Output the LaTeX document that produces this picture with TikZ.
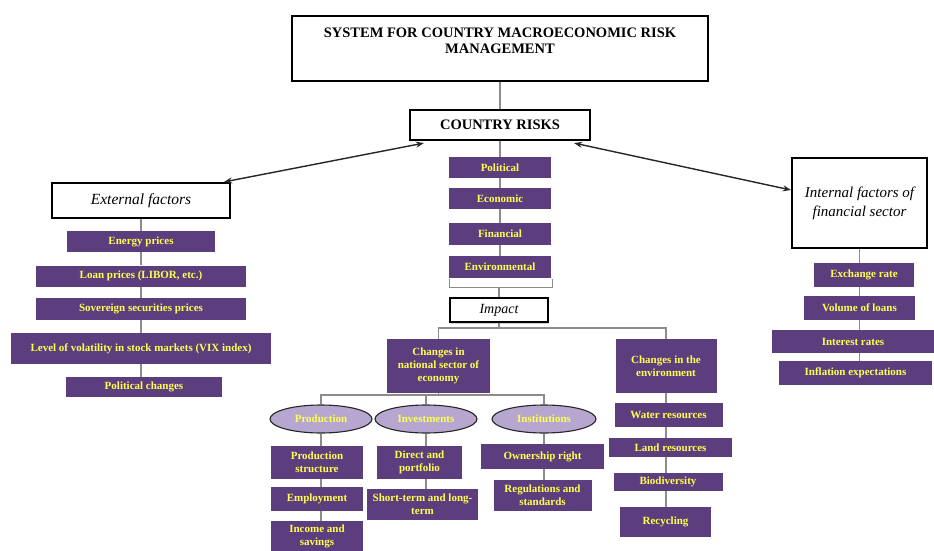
\documentclass[tikz,border=0pt]{standalone}
\usepackage{fontspec}
\setmainfont{Liberation Serif}
\usetikzlibrary{arrows.meta,shapes.geometric,shadows}
\definecolor{pur}{RGB}{92,62,126}
\definecolor{yel}{RGB}{255,255,80}
\definecolor{lav}{RGB}{182,166,208}
\definecolor{conn}{RGB}{140,140,140}
\begin{document}
\begin{tikzpicture}[x=1pt,y=-1pt,
 pbox/.style={draw=none, fill=pur, text=yel, font=\bfseries\fontsize{11}{13}\selectfont, align=center, inner sep=1pt},
 tbox/.style={draw=black, line width=2.2pt, fill=white, align=center, inner sep=2pt},
 oval/.style={ellipse, draw=black!85, line width=1.1pt, fill=lav, text=yel, font=\bfseries\fontsize{11}{13}\selectfont, inner sep=0pt},
 link/.style={draw=conn, line width=1.2pt},
 biarrow/.style={draw=black!85, line width=1.4pt, {Stealth[length=8pt,width=6pt]}-{Stealth[length=8pt,width=6pt]}}
]
\fill[white] (0,0) rectangle (934,551);
\useasboundingbox (0,0) rectangle (934,551);

% top
\node[tbox, minimum width=416, minimum height=65, font=\bfseries\fontsize{14.5}{16}\selectfont] (title) at (500,48.5)
  {SYSTEM FOR COUNTRY MACROECONOMIC RISK\\MANAGEMENT\\\mbox{}};
\node[tbox, minimum width=180, minimum height=30, font=\bfseries\fontsize{14.5}{16}\selectfont] (cr) at (500,125) {COUNTRY RISKS};

% centre column
\node[pbox, minimum width=102, minimum height=21] (pol) at (500,167.5) {Political};
\node[pbox, minimum width=102, minimum height=21] (eco) at (500,198.5) {Economic};
\node[pbox, minimum width=102, minimum height=22] (fin) at (500,234) {Financial};
\node[pbox, minimum width=102, minimum height=22] (env) at (500,267) {Environmental};
\node[draw=black, line width=1.1pt, fill=white, minimum width=98, minimum height=24, font=\itshape\fontsize{14}{16}\selectfont,
      drop shadow={shadow xshift=1pt, shadow yshift=-2pt, fill=black!35}] (imp) at (499,310) {Impact};

\node[pbox, minimum width=103, minimum height=54] (nat) at (438.5,366) {Changes in\\national sector of\\economy};
\node[pbox, minimum width=101, minimum height=54] (envc) at (666,366) {Changes in the\\environment};

\node[oval, minimum width=102, minimum height=28] (prod) at (321,419) {Production};
\node[oval, minimum width=102, minimum height=28] (inv) at (426,419) {Investments};
\node[oval, minimum width=104, minimum height=28] (inst) at (544,419) {Institutions};

\node[pbox, minimum width=92, minimum height=33] (ps) at (317,462.5) {Production\\structure};
\node[pbox, minimum width=92, minimum height=24] (emp) at (317,499) {Employment};
\node[pbox, minimum width=92, minimum height=30] (inc) at (317,536) {Income and\\savings};
\node[pbox, minimum width=85, minimum height=33] (dir) at (419.5,462.5) {Direct and\\portfolio};
\node[pbox, minimum width=111, minimum height=31] (stl) at (422.5,504.5) {Short-term and long-\\term};
\node[pbox, minimum width=123, minimum height=25] (own) at (542.5,456.5) {Ownership right};
\node[pbox, minimum width=98, minimum height=31] (reg) at (542.5,495.5) {Regulations and\\standards};

\node[pbox, minimum width=108, minimum height=24] (wat) at (668.5,415) {Water resources};
\node[pbox, minimum width=123, minimum height=19] (land) at (670.5,447.5) {Land resources};
\node[pbox, minimum width=109, minimum height=18] (bio) at (668,482) {Biodiversity};
\node[pbox, minimum width=91, minimum height=30] (rec) at (665.5,522) {Recycling};

% left
\node[tbox, minimum width=178, minimum height=35, font=\itshape\fontsize{15.5}{18}\selectfont] (ext) at (141,200.5) {External factors};
\node[pbox, minimum width=148, minimum height=21] (en) at (141,241.5) {Energy prices};
\node[pbox, minimum width=210, minimum height=21] (loan) at (141,276) {Loan prices (LIBOR, etc.)};
\node[pbox, minimum width=210, minimum height=22] (sov) at (141,309) {Sovereign securities prices};
\node[pbox, minimum width=260, minimum height=31] (vix) at (141,348.5) {Level of volatility in stock markets (VIX index)};
\node[pbox, minimum width=156, minimum height=20] (pc) at (144,387) {Political changes};

% right
\node[tbox, minimum width=135, minimum height=90, font=\itshape\fontsize{15}{19}\selectfont] (int) at (859.5,203) {Internal factors of\\financial sector};
\node[pbox, minimum width=100, minimum height=24] (ex) at (864,275) {Exchange rate};
\node[pbox, minimum width=111, minimum height=24] (vol) at (859.5,308) {Volume of loans};
\node[pbox, minimum width=162, minimum height=23] (ir) at (853,341.5) {Interest rates};
\node[pbox, minimum width=153, minimum height=24] (inf) at (855.5,373) {Inflation expectations};

% connectors
\draw[link] (title.south) -- (cr.north);
\draw[link] (cr.south) -- (pol.north);
\draw[link] (pol.south) -- (eco.north);
\draw[link] (eco.south) -- (fin.north);
\draw[link] (fin.south) -- (env.north);
\coordinate (brl) at ([xshift=1pt,yshift=-9pt]env.south west);
\coordinate (brr) at ([xshift=1pt,yshift=-9pt]env.south east);
\draw[link] ([xshift=1pt,yshift=-1pt]env.south west) -- (brl) -- (brr) -- ([xshift=1pt,yshift=-1pt]env.south east);
\draw[link] (imp.north |- brl) -- (imp.north);

\coordinate (h1) at (500,328);
\draw[link] (imp.south) -- (imp.south |- h1);
\draw[link] (nat.north) -- (nat.north |- h1) -- (envc.north |- h1) -- (envc.north);

\coordinate (h2) at (430,395);
\draw[link] (nat.south) -- (nat.south |- h2);
\draw[link] (prod.north) -- (prod.north |- h2) -- (inst.north |- h2) -- (inst.north);
\draw[link] (inv.north) -- (inv.north |- h2);

\draw[link] (prod.south) -- (prod.south |- ps.north);
\draw[link] (prod.south |- ps.south) -- (prod.south |- emp.north);
\draw[link] (prod.south |- emp.south) -- (prod.south |- inc.north);
\draw[link] (inv.south) -- (inv.south |- dir.north);
\draw[link] (inv.south |- dir.south) -- (inv.south |- stl.north);
\draw[link] (inst.south) -- (inst.south |- own.north);
\draw[link] (inst.south |- own.south) -- (inst.south |- reg.north);

\draw[link] (envc.south) -- (envc.south |- wat.north);
\draw[link] (envc.south |- wat.south) -- (envc.south |- land.north);
\draw[link] (envc.south |- land.south) -- (envc.south |- bio.north);
\draw[link] (envc.south |- bio.south) -- (envc.south |- rec.north);

\draw[link] (ext.south) -- (en.north);
\draw[link] (en.south) -- (loan.north);
\draw[link] (loan.south) -- (sov.north);
\draw[link] (sov.south) -- (vix.north);
\draw[link] (vix.south) -- (vix.south |- pc.north);

\draw[link] (int.south) -- (int.south |- ex.north);
\draw[link] (int.south |- ex.south) -- (int.south |- vol.north);
\draw[link] (int.south |- vol.south) -- (int.south |- ir.north);
\draw[link] (int.south |- ir.south) -- (int.south |- inf.north);

\draw[biarrow] ([xshift=15pt,yshift=-2pt]cr.south west) -- ([xshift=-7pt]ext.north east);
\draw[biarrow] ([xshift=-17pt,yshift=-2pt]cr.south east) -- ([yshift=13pt]int.west);
\end{tikzpicture}
\end{document}
